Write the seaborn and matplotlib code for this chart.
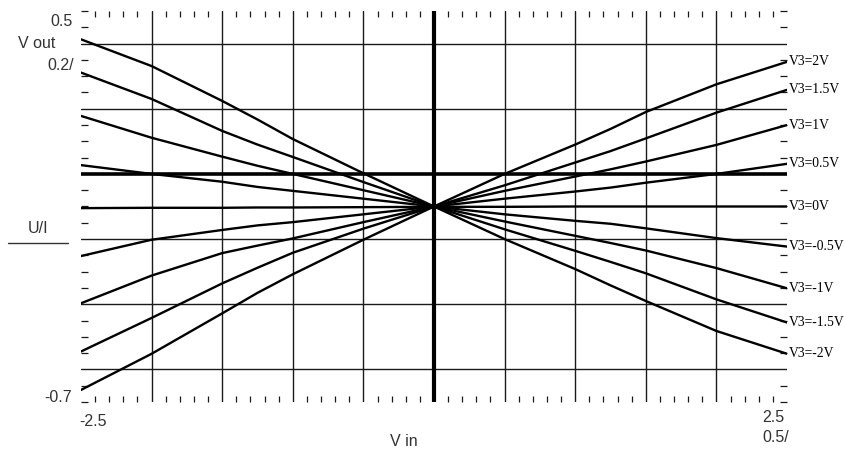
import numpy as np
import pandas as pd
import matplotlib
matplotlib.use("Agg")
import matplotlib.pyplot as plt
from matplotlib.lines import Line2D
import seaborn as sns

# Input sweep (V in) and the family of transfer curves, one per control voltage V3
vin = [-2.5, -2.0, -1.5, -1.25, -1.0, -0.5, 0.0, 0.5, 1.0, 1.25, 1.5, 2.0, 2.5]
v3_values = [2, 1.5, 1, 0.5, 0, -0.5, -1, -1.5, -2]
v3_labels = ["V3=2V", "V3=1.5V", "V3=1V", "V3=0.5V", "V3=0V",
             "V3=-0.5V", "V3=-1V", "V3=-1.5V", "V3=-2V"]

vout_p2 = [-0.663, -0.552, -0.428, -0.365, -0.308, -0.202, -0.100, 0.000, 0.090, 0.138, 0.190, 0.275, 0.344]
vout_p15 = [-0.545, -0.442, -0.336, -0.288, -0.242, -0.168, -0.100, -0.035, 0.035, 0.070, 0.109, 0.188, 0.258]
vout_p1 = [-0.397, -0.312, -0.243, -0.220, -0.198, -0.148, -0.100, -0.052, -0.008, 0.014, 0.038, 0.089, 0.150]
vout_p05 = [-0.252, -0.202, -0.172, -0.158, -0.148, -0.124, -0.100, -0.076, -0.054, -0.042, -0.027, 0.000, 0.031]
vout_0 = [-0.105, -0.104, -0.104, -0.103, -0.103, -0.102, -0.101, -0.101, -0.100, -0.100, -0.100, -0.100, -0.100]
vout_m05 = [0.027, 0.000, -0.024, -0.040, -0.052, -0.076, -0.100, -0.124, -0.144, -0.153, -0.167, -0.197, -0.223]
vout_m1 = [0.178, 0.111, 0.053, 0.025, 0.000, -0.050, -0.100, -0.146, -0.190, -0.212, -0.235, -0.289, -0.351]
vout_m15 = [0.311, 0.230, 0.132, 0.090, 0.052, -0.025, -0.100, -0.170, -0.236, -0.270, -0.305, -0.385, -0.456]
vout_m2 = [0.413, 0.331, 0.224, 0.167, 0.107, 0.002, -0.100, -0.200, -0.292, -0.342, -0.390, -0.482, -0.552]

curves = [vout_p2, vout_p15, vout_p1, vout_p05, vout_0,
          vout_m05, vout_m1, vout_m15, vout_m2]

df = pd.concat(
    [pd.DataFrame({"Vin": vin, "Vout": ys, "V3": lab})
     for lab, ys in zip(v3_labels, curves)],
    ignore_index=True,
)

sns.set_theme(style="white")
plt.rcParams["font.family"] = ["Liberation Sans", "DejaVu Sans"]

W, H = 845, 450
fig = plt.figure(figsize=(W / 100, H / 100), dpi=100)
ax = fig.add_axes([81 / W, 1 - 402 / H, (787 - 81) / W, (402 - 11) / H])

XMIN, XMAX, YMIN, YMAX = -2.5, 2.5, -0.7, 0.5
ink = "#1a1a1a"

# grid: every 0.5 on x, every 0.2 on y, with heavy zero axes
for gx in np.arange(-2.0, 2.01, 0.5):
    if abs(gx) < 1e-9:
        continue
    ax.axvline(gx, color=ink, lw=1.0, zorder=1)
for gy in np.arange(-0.6, 0.41, 0.2):
    if abs(gy) < 1e-9:
        continue
    ax.axhline(gy, color=ink, lw=1.0, zorder=1)
ax.axvline(0, color="black", lw=3.0, zorder=1)
ax.axhline(0, color="black", lw=2.6, zorder=1)

palette = {lab: "black" for lab in v3_labels}
sns.lineplot(data=df, x="Vin", y="Vout", hue="V3", palette=palette,
             estimator=None, sort=False, legend=False, lw=1.7, ax=ax, zorder=3)

ax.set_xlim(XMIN, XMAX)
ax.set_ylim(YMIN, YMAX)
ax.set_xlabel("")
ax.set_ylabel("")
for s in ax.spines.values():
    s.set_visible(False)

# small inward ticks: 0.1 on x (top and bottom), 0.05 on y (left and right)
xt = [round(v, 2) for v in np.arange(-2.4, 2.41, 0.1)
      if abs(v / 0.5 - round(v / 0.5)) > 1e-6]
yt = [round(v, 3) for v in np.arange(-0.7, 0.501, 0.05)
      if not any(abs(v - g) < 1e-6 for g in (-0.6, -0.4, -0.2, 0.0, 0.2, 0.4))]
ax.set_xticks(xt)
ax.set_yticks(yt)
ax.tick_params(axis="x", direction="in", top=True, bottom=True, length=4.5,
               width=0.9, color=ink, labelbottom=False, labeltop=False)
ax.tick_params(axis="y", direction="in", left=True, right=True, length=5.2,
               width=0.9, color=ink, labelleft=False, labelright=False)

# curve labels at the right end
for lab, ys in zip(v3_labels, curves):
    ax.text(XMAX + 0.01, ys[-1], lab, ha="left", va="center",
            family="Liberation Serif", fontsize=9.8, color="black",
            clip_on=False)

# axis annotations
txt = dict(fontsize=11.5, color="#333333")
def ftext(x, y, s, ha="center", **kw):
    fig.text(x / W, 1 - y / H, s, ha=ha, va="center", **txt, **kw)

ftext(73, 22, "0.5", ha="right")
ftext(37, 44, "V out")
ftext(74, 66, "0.2/", ha="right")
ftext(38, 229, "U/I")
fig.add_artist(Line2D([8 / W, 68 / W], [1 - 242.5 / H] * 2,
                      color="#333333", lw=1.0))
ftext(72, 397, "-0.7", ha="right")
ftext(79, 421, "-2.5", ha="left")
ftext(404, 442, "V in")
ftext(762, 418, "2.5", ha="left")
ftext(762, 437, "0.5/", ha="left")

fig.savefig("out.png", dpi=100, facecolor="white")
